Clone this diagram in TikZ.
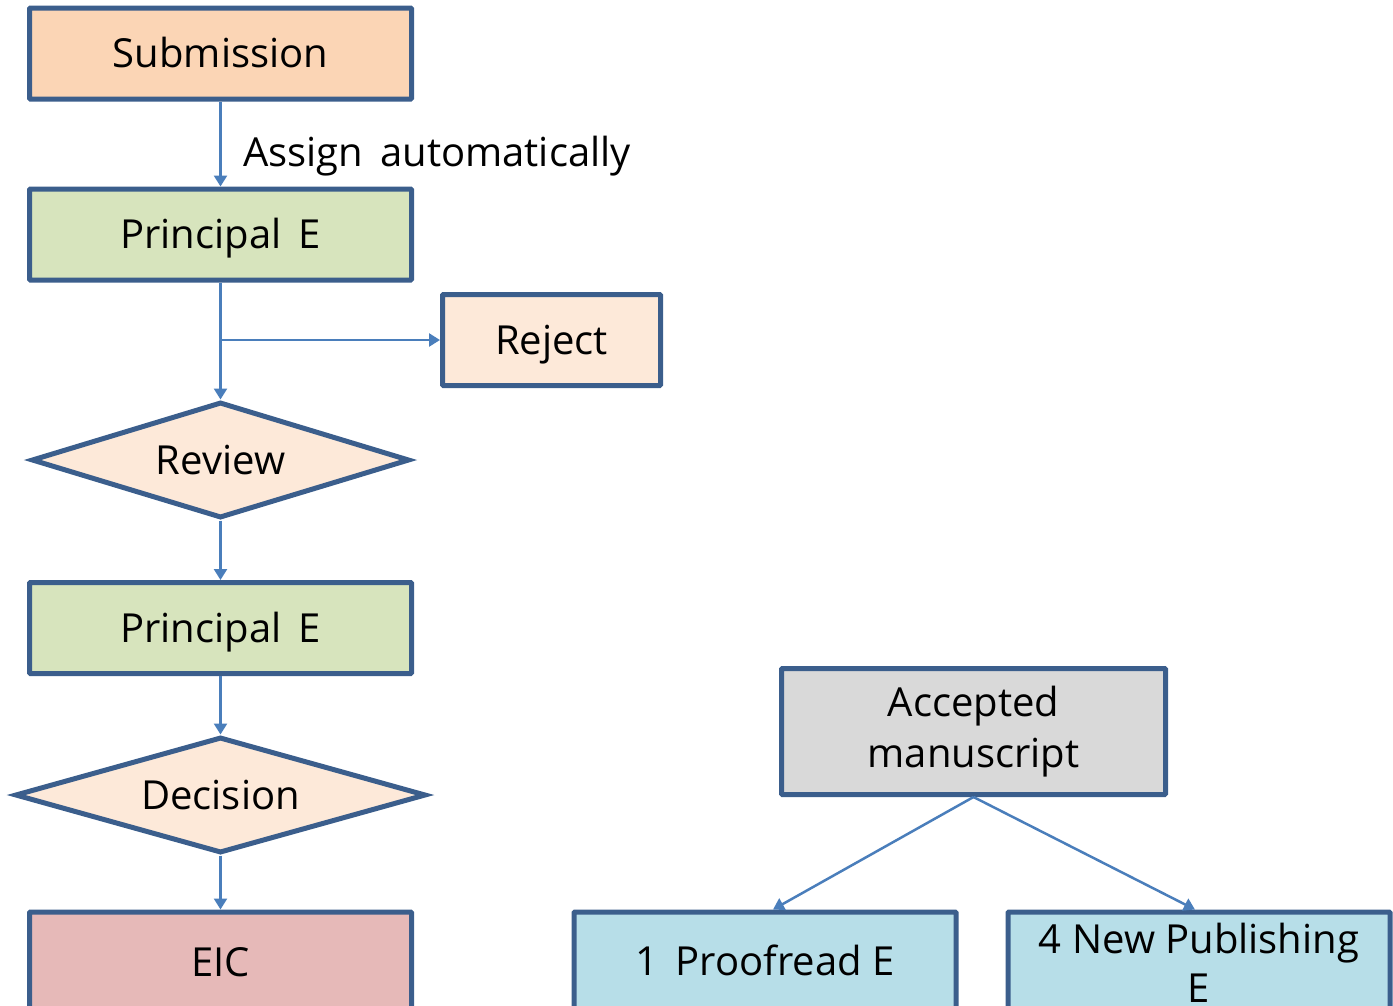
\documentclass[tikz,border=0pt]{standalone}
\usepackage{fontspec}
\setmainfont{Open Sans}
\usetikzlibrary{shapes.geometric,arrows.meta}
\definecolor{bord}{HTML}{3B5E8C}
\definecolor{conn}{HTML}{4A7EBB}
\definecolor{fsub}{HTML}{FBD5B5}
\definecolor{fgreen}{HTML}{D7E4BD}
\definecolor{fpeach}{HTML}{FDE9D9}
\definecolor{fred}{HTML}{E6B9B8}
\definecolor{fgray}{HTML}{D9D9D9}
\definecolor{fblue}{HTML}{B7DEE8}
\tikzset{
  capht/.style={text height=28.6pt, text depth=0pt},
  boxbase/.style={draw=bord, line width=5pt, rounded corners=1pt, minimum width=382pt, minimum height=91pt, inner sep=0pt, font=\fontsize{40}{48}\selectfont},
  box/.style={boxbase, capht},
  dia/.style={draw=bord, line width=5pt, diamond, aspect=3.2, minimum width=378pt, minimum height=116pt, inner sep=0pt, capht, fill=fpeach, font=\fontsize{40}{48}\selectfont},
  conn/.style={draw=conn, line width=2.5pt, -{Triangle[width=13pt,length=11pt]}},
  lbl/.style={font=\fontsize{40}{48}\selectfont, inner sep=0pt}
}
\begin{document}
\begin{tikzpicture}[x=1pt,y=-1pt]
\useasboundingbox (0,0) rectangle (1393,1005);
\node[box, fill=fsub] (sub) at (220.5,53.5) {Submission};
\node[box, fill=fgreen] (pe1) at (220.5,234.5) {Principal\, E};
\node[box, fill=fpeach, minimum width=218pt] (rej) at (551.5,340) {Reject};
\node[dia] (rev) at (220.5,460) {Review};
\node[box, fill=fgreen] (pe2) at (220.5,628) {Principal\, E};
\node[dia, minimum width=411pt, aspect=3.5] (dec) at (220.5,795) {Decision};
\node[box, fill=fred, minimum height=100pt] (eic) at (220.5,962) {EIC};
\node[boxbase, fill=fgray, minimum width=384pt, minimum height=126pt, align=center, font=\fontsize{40}{51}\selectfont] (acc) at (973.5,731.5) {Accepted\\manuscript};
\node[boxbase, fill=fblue, minimum height=100pt] (pf) at (765,962) {};
\node[lbl, capht] (pftext) at (765,961) {1\, Proofread E};
\node[boxbase, fill=fblue, minimum height=100pt] (np) at (1199,962) {};
\node[lbl, align=center, font=\fontsize{40}{49}\selectfont] (nptext) at (1199,963) {4 New Publishing\\E};
\node[lbl, capht, anchor=west] (assign) at (243,152.5) {Assign\, automatically};
\coordinate (br) at (220.5,340);
\draw[conn] (sub.south) -- (pe1.north);
\draw[conn] (pe1.south) -- (rev.north);
\draw[conn] (br) -- (rej.west);
\draw[conn] (rev.south) -- (pe2.north);
\draw[conn] (pe2.south) -- (dec.north);
\draw[conn] (dec.south) -- (eic.north);
\draw[conn] (acc.south) -- ([xshift=8pt]pf.north);
\draw[conn] (acc.south) -- ([xshift=-4pt]np.north);
\end{tikzpicture}
\end{document}
